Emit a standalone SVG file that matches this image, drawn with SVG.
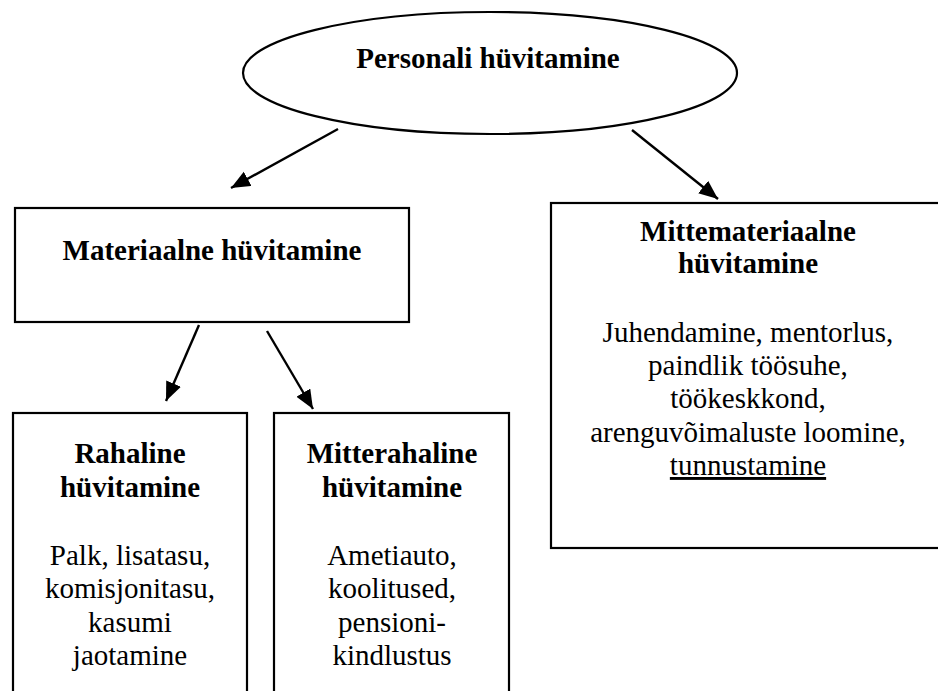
<svg xmlns="http://www.w3.org/2000/svg" width="938" height="691" viewBox="0 0 938 691">
<style>
.shape{fill:#fff;stroke:#000;stroke-width:2.2}
text{font-family:"Liberation Serif","Times New Roman",serif;font-size:29px;fill:#000;text-anchor:middle}
.b{font-weight:bold}
.conn{stroke:#000;stroke-width:2.4;fill:none}
</style>
<defs>
<marker id="ah" markerUnits="userSpaceOnUse" markerWidth="22" markerHeight="18" refX="19" refY="8" orient="auto">
<path d="M0,0 L19,8 L0,16 z" fill="#000"/>
</marker>
</defs>
<rect width="938" height="691" fill="#fff"/>
<g id="connectors">
<line class="conn" x1="338" y1="129" x2="231" y2="188" marker-end="url(#ah)"/>
<line class="conn" x1="632" y1="130" x2="718" y2="199" marker-end="url(#ah)"/>
<line class="conn" x1="199" y1="325" x2="166" y2="401" marker-end="url(#ah)"/>
<line class="conn" x1="267" y1="331" x2="313" y2="409" marker-end="url(#ah)"/>
</g>
<g id="personali">
<ellipse class="shape" cx="490" cy="73" rx="247" ry="61"/>
<text class="b" x="488" y="68">Personali hüvitamine</text>
</g>
<g id="materiaalne">
<rect class="shape" x="15" y="208" width="394" height="114"/>
<text class="b" x="212" y="260">Materiaalne hüvitamine</text>
</g>
<g id="rahaline">
<rect class="shape" x="13" y="413" width="234" height="290"/>
<text class="b" x="130" y="463">Rahaline</text>
<text class="b" x="130" y="497">hüvitamine</text>
<text x="130" y="565">Palk, lisatasu,</text>
<text x="130" y="598">komisjonitasu,</text>
<text x="130" y="632">kasumi</text>
<text x="130" y="665">jaotamine</text>
</g>
<g id="mitterahaline">
<rect class="shape" x="274" y="413" width="235" height="290"/>
<text class="b" x="392" y="463">Mitterahaline</text>
<text class="b" x="392" y="497">hüvitamine</text>
<text x="392" y="565">Ametiauto,</text>
<text x="392" y="598">koolitused,</text>
<text x="392" y="632">pensioni-</text>
<text x="392" y="665">kindlustus</text>
</g>
<g id="mittemateriaalne">
<rect class="shape" x="551" y="203" width="400" height="345"/>
<text class="b" x="748" y="241">Mittemateriaalne</text>
<text class="b" x="748" y="273">hüvitamine</text>
<text x="748" y="342">Juhendamine, mentorlus,</text>
<text x="748" y="375">paindlik töösuhe,</text>
<text x="748" y="408">töökeskkond,</text>
<text x="748" y="442">arenguvõimaluste loomine,</text>
<text x="748" y="475" text-decoration="underline">tunnustamine</text>
</g>
</svg>
